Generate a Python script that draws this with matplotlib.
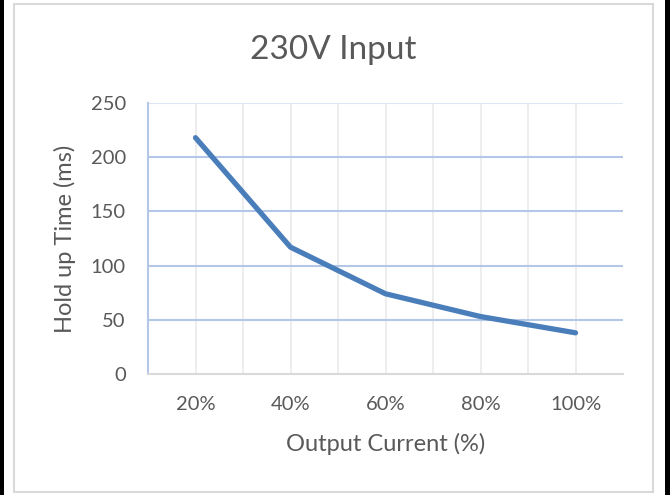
import matplotlib
matplotlib.use("Agg")
import matplotlib.pyplot as plt
from matplotlib.patches import Rectangle

# data
categories = ["20%", "40%", "60%", "80%", "100%"]
hold_up_ms = [218, 117, 74, 53, 38]
y_ticks = [0, 50, 100, 150, 200, 250]

plt.rcParams['font.family'] = ['Lato', 'DejaVu Sans']
text_col = "#595959"

W, H = 670, 495
fig = plt.figure(figsize=(W / 100, H / 100), dpi=100, facecolor="white")

# black strips at the screenshot edges and the light chart border
fig.patches.append(Rectangle((0, 0), 4 / W, 1, transform=fig.transFigure,
                             facecolor="black", edgecolor="none", zorder=0))
fig.patches.append(Rectangle((665 / W, 0), 5 / W, 1, transform=fig.transFigure,
                             facecolor="black", edgecolor="none", zorder=0))
fig.patches.append(Rectangle((14 / W, 3 / H), 639 / W, 488 / H, transform=fig.transFigure,
                             facecolor="none", edgecolor="#d9d9d9", lw=1.5, zorder=1))

ax = fig.add_axes([148 / W, (H - 374) / H, 475 / W, 271 / H])
x = list(range(len(categories)))

ax.plot(x, hold_up_ms, color="#4a7ebb", lw=3.8, solid_capstyle="round",
        solid_joinstyle="round", zorder=3)

ax.set_xlim(-0.5, len(categories) - 0.5)
ax.set_ylim(0, 250)
ax.set_xticks(x)
ax.set_xticklabels(categories)
ax.set_yticks(y_ticks)

# vertical grid at categories and between them
for v in x + [i + 0.5 for i in x[:-1]]:
    ax.axvline(v, color="#ececec", lw=1.3, zorder=1)
for v in y_ticks[1:]:
    ax.axhline(v, color="#b4c7e7" if v < 250 else "#dce6f4", lw=1.5, zorder=2)

ax.tick_params(which="both", length=0)
ax.tick_params(axis="x", pad=15.5, labelsize=14.5, labelcolor=text_col)
ax.tick_params(axis="y", pad=16, labelsize=14.5, labelcolor=text_col)

for s in ["top", "right"]:
    ax.spines[s].set_visible(False)
ax.spines["left"].set_color("#b4c7e7")
ax.spines["left"].set_linewidth(1.5)
ax.spines["bottom"].set_color("#d9d9d9")
ax.spines["bottom"].set_linewidth(1.5)
ax.spines["bottom"].set_zorder(4)

ax.set_xlabel("Output Current (%)", fontsize=17, color=text_col)
ax.set_ylabel("Hold up Time (ms)", fontsize=17, color=text_col)
ax.xaxis.set_label_coords(0.5, (374 - 433) / 271)
ax.yaxis.set_label_coords((76 - 148) / 475, 0.5)
fig.text(333.5 / W, 1 - 59 / H, "230V Input", ha="center", va="baseline",
         fontsize=24, color=text_col)

fig.savefig("out.png", dpi=100, facecolor="white")
